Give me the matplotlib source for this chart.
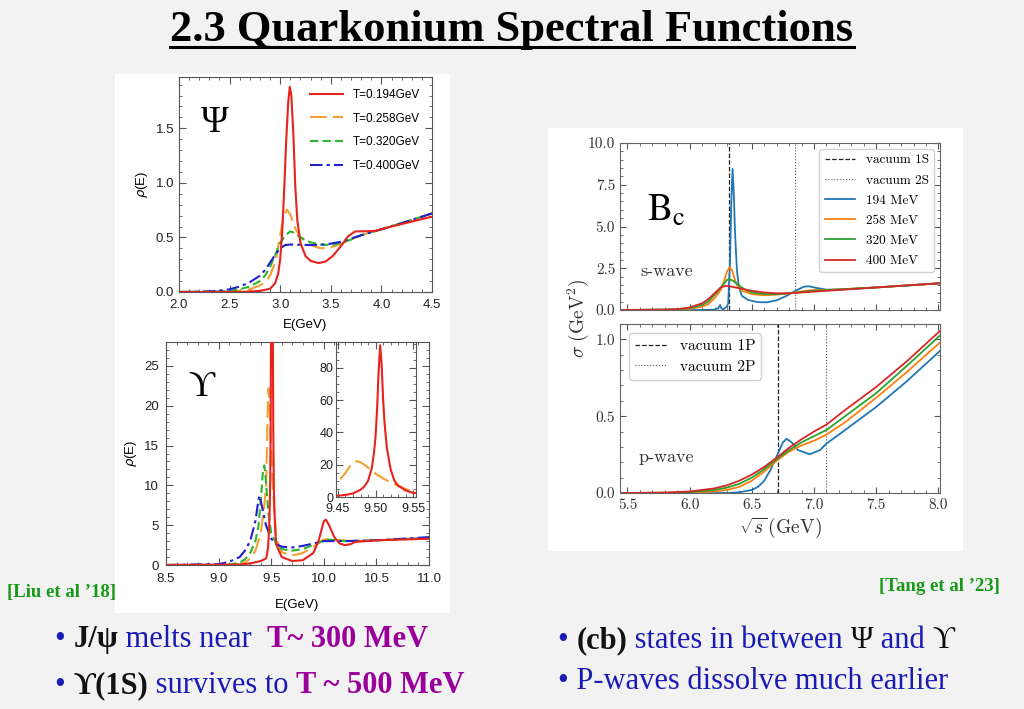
import matplotlib
matplotlib.use('Agg')
import matplotlib.pyplot as plt
from matplotlib.patches import Rectangle
from matplotlib.ticker import AutoMinorLocator, FormatStrFormatter, MultipleLocator, FixedLocator

# ---------------- data ----------------
# J/psi spectral functions (Liu et al '18)
psi_E_194 = [2.0, 2.6, 2.8, 2.9, 2.95, 2.98, 3.0, 3.02, 3.04, 3.06, 3.08, 3.095, 3.11, 3.13, 3.15, 3.17,
             3.2, 3.25, 3.3, 3.38, 3.45, 3.52, 3.6, 3.67, 3.74, 3.85, 3.94, 4.1, 4.3, 4.5]
psi_rho_194 = [0, 0, 0.01, 0.03, 0.08, 0.17, 0.3, 0.55, 0.95, 1.4, 1.75, 1.88, 1.8, 1.45, 0.95, 0.65,
               0.45, 0.33, 0.285, 0.265, 0.28, 0.33, 0.42, 0.51, 0.555, 0.557, 0.56, 0.6, 0.645, 0.69]
psi_E_258 = [2.0, 2.5, 2.6, 2.7, 2.8, 2.85, 2.9, 2.95, 3.0, 3.03, 3.065, 3.1, 3.15, 3.2, 3.3, 3.4,
             3.5, 3.6, 3.7, 3.8, 4.0, 4.25, 4.5]
psi_rho_258 = [0, 0.005, 0.012, 0.025, 0.06, 0.09, 0.15, 0.27, 0.52, 0.68, 0.755, 0.71, 0.58, 0.5,
               0.43, 0.4, 0.41, 0.44, 0.48, 0.52, 0.575, 0.645, 0.72]
psi_E_320 = [2.0, 2.4, 2.5, 2.6, 2.7, 2.8, 2.85, 2.9, 2.95, 3.0, 3.05, 3.1, 3.15, 3.2, 3.3, 3.4,
             3.5, 3.6, 3.7, 3.8, 4.0, 4.25, 4.5]
psi_rho_320 = [0, 0.005, 0.012, 0.025, 0.05, 0.1, 0.15, 0.23, 0.34, 0.45, 0.52, 0.555, 0.54, 0.5,
               0.455, 0.435, 0.43, 0.45, 0.48, 0.52, 0.575, 0.645, 0.72]
psi_E_400 = [2.0, 2.3, 2.4, 2.5, 2.6, 2.7, 2.8, 2.85, 2.9, 2.95, 3.0, 3.05, 3.1, 3.3, 3.45, 3.6,
             3.7, 3.8, 4.0, 4.25, 4.5]
psi_rho_400 = [0, 0.005, 0.012, 0.025, 0.05, 0.09, 0.15, 0.2, 0.27, 0.34, 0.4, 0.43, 0.435, 0.43,
               0.435, 0.46, 0.49, 0.52, 0.575, 0.645, 0.72]

# Upsilon spectral functions
ups_E_194 = [8.5, 9.2, 9.3, 9.35, 9.4, 9.45, 9.46, 9.47, 9.48, 9.485, 9.49, 9.495, 9.498, 9.5, 9.502,
             9.504, 9.506, 9.508, 9.51, 9.512, 9.515, 9.52, 9.525, 9.53, 9.54, 9.55, 9.6, 9.7, 9.8,
             9.9, 9.95, 10.0, 10.02, 10.05, 10.1, 10.15, 10.2, 10.25, 10.3, 10.5, 11.0]
ups_rho_194 = [0, 0.05, 0.2, 0.35, 0.5, 0.8, 1.3, 2.2, 4.5, 6.5, 10, 18, 28, 38, 55,
               78, 94, 82, 60, 45, 30, 17, 10, 7, 4, 2.5, 1.0, 0.5, 0.6,
               1.5, 3.0, 5.5, 5.7, 5.0, 3.5, 2.7, 2.5, 2.6, 2.9, 3.1, 3.3]
ups_E_258 = [8.5, 9.1, 9.2, 9.25, 9.3, 9.35, 9.4, 9.43, 9.45, 9.455, 9.46, 9.465, 9.47, 9.475, 9.48,
             9.485, 9.49, 9.5, 9.51, 9.52, 9.53, 9.54, 9.55, 9.6, 9.7, 9.8, 9.9, 10.0, 10.05, 10.15,
             10.3, 10.5, 11.0]
ups_rho_258 = [0, 0.02, 0.1, 0.3, 0.8, 1.8, 4, 7, 9.5, 12, 15, 18.5, 21, 22.2, 21.5,
               20, 18.2, 14.5, 11.5, 9, 7, 5, 3.2, 1.6, 1.2, 1.5, 2.3, 3.2, 3.3, 3.1,
               3.0, 3.1, 3.4]
ups_E_320 = [8.5, 9.1, 9.2, 9.25, 9.3, 9.35, 9.38, 9.4, 9.42, 9.435, 9.45, 9.47, 9.5, 9.55, 9.6,
             9.7, 9.8, 9.9, 10.0, 10.05, 10.2, 10.5, 11.0]
ups_rho_320 = [0, 0.05, 0.3, 0.7, 1.5, 3, 5, 8, 11.5, 12.5, 10.5, 7, 4, 2.6, 2.0,
               1.8, 2.0, 2.5, 3.1, 3.2, 3.0, 3.1, 3.4]
ups_E_400 = [8.5, 9.0, 9.1, 9.2, 9.25, 9.3, 9.35, 9.38, 9.39, 9.41, 9.45, 9.5, 9.55, 9.6, 9.7,
             9.8, 9.9, 10.0, 10.2, 10.5, 11.0]
ups_rho_400 = [0, 0.1, 0.4, 1.0, 1.8, 3.0, 5.5, 8.3, 8.7, 7.5, 5.0, 3.3, 2.6, 2.3, 2.2,
               2.4, 2.7, 3.0, 3.0, 3.1, 3.5]

# B_c s-wave cross sections (Tang et al '23)
s_E_194 = [5.45, 6.1, 6.2, 6.23, 6.245, 6.255, 6.27, 6.3, 6.31, 6.325, 6.335, 6.345, 6.355, 6.365,
           6.38, 6.395, 6.42, 6.47, 6.55, 6.62, 6.7, 6.78, 6.85, 6.92, 6.96, 7.02, 7.1, 7.2, 7.5, 8.013]
s_sig_194 = [0, 0, 0.02, 0.1, 0.3, 0.1, 0.05, 0.2, 0.4, 3.0, 6.5, 8.45, 7.0, 4.6,
             2.4, 1.4, 0.85, 0.6, 0.47, 0.46, 0.58, 0.85, 1.15, 1.4, 1.42, 1.32, 1.22, 1.22, 1.35, 1.6]
s_E_258 = [5.45, 5.9, 6.0, 6.1, 6.15, 6.2, 6.25, 6.28, 6.3, 6.32, 6.34, 6.36, 6.38, 6.42, 6.5,
           6.6, 6.7, 6.8, 6.9, 7.0, 7.1, 7.5, 8.013]
s_sig_258 = [0, 0.02, 0.06, 0.2, 0.35, 0.7, 1.2, 1.8, 2.3, 2.55, 2.4, 1.9, 1.5, 1.15, 0.95,
             0.88, 0.92, 1.0, 1.12, 1.2, 1.2, 1.35, 1.6]
s_E_320 = [5.45, 5.9, 6.0, 6.1, 6.15, 6.2, 6.25, 6.3, 6.32, 6.35, 6.4, 6.45, 6.5, 6.6, 6.7,
           6.8, 6.9, 7.0, 7.5, 8.013]
s_sig_320 = [0, 0.04, 0.1, 0.3, 0.5, 0.9, 1.35, 1.8, 1.85, 1.75, 1.45, 1.2, 1.05, 0.95, 0.95,
             1.0, 1.08, 1.15, 1.35, 1.6]
s_E_400 = [5.45, 5.8, 5.9, 6.0, 6.1, 6.15, 6.2, 6.25, 6.29, 6.32, 6.4, 6.5, 6.6, 6.7, 6.8,
           6.9, 7.0, 7.5, 8.013]
s_sig_400 = [0, 0.02, 0.05, 0.15, 0.4, 0.65, 1.0, 1.35, 1.45, 1.42, 1.3, 1.15, 1.05, 1.0, 1.0,
             1.05, 1.1, 1.35, 1.6]

# B_c p-wave cross sections
p_E_194 = [5.45, 6.3, 6.4, 6.5, 6.55, 6.6, 6.65, 6.7, 6.75, 6.78, 6.82, 6.87, 6.965, 7.05, 7.1,
           7.2, 7.25, 7.5, 7.75, 8.013]
p_sig_194 = [0, 0, 0.005, 0.02, 0.04, 0.08, 0.15, 0.24, 0.33, 0.353, 0.33, 0.28, 0.252, 0.28, 0.322,
             0.38, 0.41, 0.56, 0.73, 0.925]
p_E_258 = [5.45, 6.0, 6.2, 6.3, 6.4, 6.5, 6.6, 6.7, 6.8, 6.9, 7.0, 7.1, 7.25, 7.5, 7.75, 8.013]
p_sig_258 = [0, 0.002, 0.01, 0.02, 0.04, 0.08, 0.14, 0.21, 0.27, 0.31, 0.34, 0.38, 0.46, 0.62,
             0.79, 0.98]
p_E_320 = [5.45, 5.8, 6.0, 6.2, 6.3, 6.4, 6.5, 6.6, 6.7, 6.8, 6.9, 7.0, 7.1, 7.25, 7.5, 7.75, 8.013]
p_sig_320 = [0, 0.001, 0.005, 0.02, 0.035, 0.06, 0.1, 0.155, 0.22, 0.28, 0.33, 0.37, 0.41, 0.5,
             0.65, 0.83, 1.025]
p_E_400 = [5.45, 5.8, 6.0, 6.2, 6.3, 6.4, 6.5, 6.6, 6.7, 6.8, 6.9, 7.0, 7.1, 7.25, 7.5, 7.75, 8.013]
p_sig_400 = [0, 0.003, 0.01, 0.03, 0.05, 0.08, 0.12, 0.17, 0.23, 0.295, 0.35, 0.4, 0.445, 0.54,
             0.69, 0.86, 1.055]

vac_1S, vac_2S = 6.316, 6.85
vac_1P, vac_2P = 6.71, 7.10

left_labels = ['T=0.194GeV', 'T=0.258GeV', 'T=0.320GeV', 'T=0.400GeV']
right_labels = ['194 MeV', '258 MeV', '320 MeV', '400 MeV']

# ---------------- layout helpers ----------------
W, H = 1024, 709
BG = '#f2f2f2'


def box(l, t, r, b):
    return [l / W, 1 - b / H, (r - l) / W, (b - t) / H]


fig = plt.figure(figsize=(W / 100, H / 100), dpi=100, facecolor=BG)

for (l, t, r, b) in [(115, 74, 450, 613), (548, 128, 963, 551)]:
    fig.add_artist(Rectangle((l / W, 1 - b / H), (r - l) / W, (b - t) / H,
                             transform=fig.transFigure, facecolor='white',
                             edgecolor='none', zorder=0))

SANS = 'Liberation Sans'
SERIF = ['Liberation Serif', 'DejaVu Serif']
CM = 'cmr10'

L_COLORS = ['#e8221c', '#f0a030', '#2db52d', '#2020d0']
L_STYLES = ['-', (0, (8, 3)), (0, (4, 2)), (0, (6, 2, 1.5, 2))]


def style_left(ax, size=9.5):
    for sp in ax.spines.values():
        sp.set_color('#555555')
    ax.tick_params(which='both', direction='in', top=True, right=True,
                   colors='#555555', labelcolor='#222222', labelsize=size,
                   labelfontfamily=SANS)
    ax.tick_params(which='major', length=5)
    ax.tick_params(which='minor', length=2.5)
    ax.xaxis.set_minor_locator(AutoMinorLocator())
    ax.yaxis.set_minor_locator(AutoMinorLocator())
    ax.set_facecolor('white')


# ---------------- J/psi panel ----------------
ax1 = fig.add_axes(box(179, 77, 432, 292))
psi_sets = [(psi_E_194, psi_rho_194), (psi_E_258, psi_rho_258),
            (psi_E_320, psi_rho_320), (psi_E_400, psi_rho_400)]
handles = []
for (x, y), c, ls, lab in zip(psi_sets, L_COLORS, L_STYLES, left_labels):
    h, = ax1.plot(x, y, color=c, ls=ls, lw=1.5, label=lab)
    handles.append(h)
# red drawn on top
handles[0].set_zorder(5)
ax1.set_xlim(2.0, 4.5)
ax1.set_ylim(0, 1.97)
ax1.xaxis.set_major_locator(MultipleLocator(0.5))
ax1.yaxis.set_major_locator(MultipleLocator(0.5))
ax1.xaxis.set_major_formatter(FormatStrFormatter('%.1f'))
ax1.yaxis.set_major_formatter(FormatStrFormatter('%.1f'))
style_left(ax1)
ax1.tick_params(axis='x', pad=5)
ax1.set_xlabel('E(GeV)', family=SANS, fontsize=9.5, labelpad=6)
ax1.set_ylabel(r'$\rho$(E)', family=SANS, fontsize=9.5, math_fontfamily='dejavusans')
ax1.legend(handles=handles, loc='upper right', frameon=False,
           prop={'family': SANS, 'size': 8.5}, handlelength=2.8, labelspacing=1.0,
           borderaxespad=0.6)
ax1.text(0.142, 0.786, 'Ψ', transform=ax1.transAxes, family=SERIF, fontsize=27,
         ha='center', va='center')

# ---------------- Upsilon panel ----------------
ax2 = fig.add_axes(box(166, 342, 429, 565))
ups_sets = [(ups_E_194, ups_rho_194), (ups_E_258, ups_rho_258),
            (ups_E_320, ups_rho_320), (ups_E_400, ups_rho_400)]
for (x, y), c, ls in zip(ups_sets, L_COLORS, L_STYLES):
    ax2.plot(x, y, color=c, ls=ls, lw=1.5, zorder=5 if c == L_COLORS[0] else 3)
ax2.set_xlim(8.5, 11.0)
ax2.set_ylim(0, 28)
ax2.xaxis.set_major_locator(MultipleLocator(0.5))
ax2.yaxis.set_major_locator(MultipleLocator(5))
ax2.xaxis.set_major_formatter(FormatStrFormatter('%.1f'))
style_left(ax2)
ax2.tick_params(axis='x', pad=6)
ax2.tick_params(axis='y', pad=5)
ax2.set_xlabel('E(GeV)', family=SANS, fontsize=9.5, labelpad=10)
ax2.set_ylabel(r'$\rho$(E)', family=SANS, fontsize=9.5, math_fontfamily='dejavusans')
ax2.text(0.136, 0.794, 'ϒ', transform=ax2.transAxes, family=SERIF, fontsize=26,
         ha='center', va='center')

# inset
ax2i = fig.add_axes(box(336, 342, 416, 497))
for (x, y), c, ls in list(zip(ups_sets, L_COLORS, L_STYLES))[:2][::-1]:
    ax2i.plot(x, y, color=c, ls=ls, lw=1.5)
ax2i.set_xlim(9.4474, 9.5536)
ax2i.set_ylim(0, 96)
ax2i.xaxis.set_major_locator(FixedLocator([9.45, 9.50, 9.55]))
ax2i.yaxis.set_major_locator(MultipleLocator(20))
ax2i.xaxis.set_major_formatter(FormatStrFormatter('%.2f'))
style_left(ax2i, size=9)
ax2i.tick_params(axis='x', pad=4)
ax2i.tick_params(axis='y', pad=2)

# ---------------- B_c s-wave panel ----------------
R_COLORS = ['#1f77b4', '#ff7f0e', '#2ca02c', '#d62728']


def style_right(ax):
    for sp in ax.spines.values():
        sp.set_color('#666666')
    ax.tick_params(which='both', direction='in', top=True, right=True,
                   colors='#555555', labelcolor='#333333', labelsize=11,
                   labelfontfamily=CM)
    ax.tick_params(which='major', length=4)
    ax.tick_params(which='minor', length=2)
    ax.xaxis.set_major_locator(MultipleLocator(0.5))
    ax.xaxis.set_minor_locator(AutoMinorLocator(5))
    ax.xaxis.set_major_formatter(FormatStrFormatter('%.1f'))
    ax.yaxis.set_major_formatter(FormatStrFormatter('%.1f'))
    ax.set_xlim(5.44, 8.013)


ax3 = fig.add_axes(box(620, 143, 940, 310))
ax3.axvline(vac_1S, color='#222222', ls='--', lw=0.9, label='vacuum 1S')
ax3.axvline(vac_2S, color='#555555', ls=':', lw=0.8, label='vacuum 2S')
s_sets = [(s_E_194, s_sig_194), (s_E_258, s_sig_258), (s_E_320, s_sig_320), (s_E_400, s_sig_400)]
for (x, y), c, lab in zip(s_sets, R_COLORS, right_labels):
    ax3.plot(x, y, color=c, lw=1.3, label=lab)
ax3.set_ylim(0, 10)
ax3.yaxis.set_major_locator(MultipleLocator(2.5))
ax3.yaxis.set_minor_locator(AutoMinorLocator(5))
style_right(ax3)
ax3.tick_params(axis='x', labelbottom=False)
ax3.legend(loc='upper right', prop={'family': CM, 'size': 9.5}, handlelength=2.3,
           labelspacing=0.6, borderaxespad=0.45, framealpha=0.9, edgecolor='#cccccc',
           fancybox=True)
ax3.text(0.145, 0.23, 's-wave', transform=ax3.transAxes, family=CM, fontsize=13,
         ha='center', va='center', color='#333333')
ax3.text(0.145, 0.595, r'$\mathrm{B_c}$', transform=ax3.transAxes, fontsize=27,
         math_fontfamily='stix', ha='center', va='center')

# ---------------- B_c p-wave panel ----------------
ax4 = fig.add_axes(box(620, 324, 940, 493))
ax4.axvline(vac_1P, color='#222222', ls='--', lw=0.9, label='vacuum 1P')
ax4.axvline(vac_2P, color='#555555', ls=':', lw=0.8, label='vacuum 2P')
p_sets = [(p_E_194, p_sig_194), (p_E_258, p_sig_258), (p_E_320, p_sig_320), (p_E_400, p_sig_400)]
for (x, y), c in zip(p_sets, R_COLORS):
    ax4.plot(x, y, color=c, lw=1.3)
ax4.set_ylim(0, 1.1)
ax4.yaxis.set_major_locator(MultipleLocator(0.5))
ax4.yaxis.set_minor_locator(AutoMinorLocator(5))
style_right(ax4)
ax4.legend(loc='upper left', prop={'family': CM, 'size': 11}, handlelength=2.1,
           labelspacing=0.45, borderaxespad=0.6, framealpha=0.9, edgecolor='#cccccc')
ax4.text(0.145, 0.21, 'p-wave', transform=ax4.transAxes, family=CM, fontsize=13,
         ha='center', va='center', color='#333333')
ax4.set_xlabel(r'$\sqrt{s}\,(\mathrm{GeV})$', fontsize=14, math_fontfamily='cm',
               color='#333333', labelpad=3)
fig.text(578 / W, 1 - 318 / H, r'$\sigma\ (\mathrm{GeV}^2)$', rotation=90, fontsize=14,
         math_fontfamily='cm', ha='center', va='center', color='#333333')

# ---------------- slide text ----------------
renderer = fig.canvas.get_renderer()

title = fig.text(512 / W, 1 - 41 / H, '2.3 Quarkonium Spectral Functions', family=SERIF,
                 fontweight='bold', fontsize=32, ha='center', va='baseline')
bb = title.get_window_extent(renderer)
fig.add_artist(plt.Line2D([bb.x0 / W, bb.x1 / W], [1 - 47 / H, 1 - 47 / H],
                          transform=fig.transFigure, color='black', lw=2.2))

GREEN = '#179917'
fig.text(7 / W, 1 - 597 / H, '[Liu et al ’18]', family=SERIF, fontweight='bold',
         fontsize=13.5, color=GREEN, va='baseline')
fig.text(1000 / W, 1 - 591 / H, '[Tang et al ’23]', family=SERIF, fontweight='bold',
         fontsize=13.5, color=GREEN, va='baseline', ha='right')

BLUE = '#1a1ab4'
PURPLE = '#990099'
BLACK = '#111111'


def rich(x, y, parts, size=22):
    for txt, col, wt in parts:
        t = fig.text(x / W, 1 - y / H, txt, family=SERIF, fontsize=size, color=col,
                     fontweight=wt, va='baseline')
        x = t.get_window_extent(renderer).x1


rich(55, 647, [('• ', BLUE, 'normal'), ('J/ψ', BLACK, 'bold'),
               (' melts near  ', BLUE, 'normal'), ('T~ 300 MeV', PURPLE, 'bold')])
rich(55, 693, [('• ', BLUE, 'normal'), ('ϒ(1S)', BLACK, 'bold'),
               (' survives to ', BLUE, 'normal'), ('T ~ 500 MeV', PURPLE, 'bold')])
rich(558, 648, [('• ', BLUE, 'normal'), ('(cb)', BLACK, 'bold'),
                (' states in between ', BLUE, 'normal'), ('Ψ', BLACK, 'normal'),
                (' and ', BLUE, 'normal'), ('ϒ', BLACK, 'normal')])
rich(558, 689, [('• P-waves dissolve much earlier', BLUE, 'normal')])

fig.savefig('out.png', dpi=100, facecolor=BG)
